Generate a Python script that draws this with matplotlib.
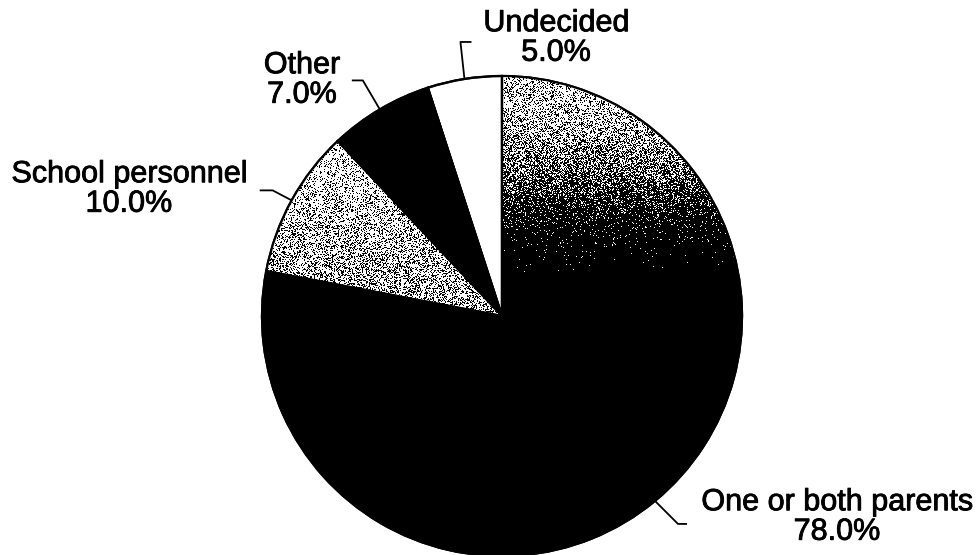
import numpy as np
import matplotlib
matplotlib.use("Agg")
import matplotlib.pyplot as plt
from matplotlib.patches import Wedge
import matplotlib.patheffects as pe

# Who the students turn to: share of responses
categories = ["One or both parents", "School personnel", "Other", "Undecided"]
shares = [78.0, 10.0, 7.0, 5.0]

W, H = 979, 555
fig = plt.figure(figsize=(W / 100, H / 100), dpi=100)
ax = fig.add_axes([0, 0, 1, 1])

cx, cy, R = 502, 239, 240
wedges, _ = ax.pie(shares, startangle=90, counterclock=False,
                   center=(cx, cy), radius=R, frame=True,
                   colors=["black", "#c4c4c4", "black", "white"],
                   wedgeprops=dict(edgecolor="black", linewidth=1.6))
ax.set_xlim(0, W)
ax.set_ylim(0, H)
ax.set_aspect("equal")
ax.axis("off")

rng = np.random.default_rng(3)
n = 2 * R
rows = np.arange(n)[:, None] * np.ones((1, n))


def smoothstep(x, lo, hi):
    u = np.clip((x - lo) / (hi - lo), 0, 1)
    return u * u * (3 - 2 * u)


def dither(level):
    """Binary speckle pattern whose local density of white follows `level`."""
    return (rng.random((n, n)) < level).astype(float)


# large wedge: light grey at the top, darkening smoothly into black
level = (0.66 * (1 - smoothstep(rows, 25, 165))
         + 0.05 * (1 - smoothstep(rows, 140, 205)))
im = ax.imshow(dither(level), cmap="gray", vmin=0, vmax=1,
               extent=(cx - R, cx + R, cy - R, cy + R),
               origin="upper", interpolation="nearest", zorder=1.5)
im.set_clip_path(wedges[0])

# second wedge: speckled light grey, a little darker towards the centre
level2 = 0.8 - 0.17 * smoothstep(rows, 70, 210)
im2 = ax.imshow(dither(level2), cmap="gray", vmin=0, vmax=1,
                extent=(cx - R, cx + R, cy - R, cy + R),
                origin="upper", interpolation="nearest", zorder=1.5)
im2.set_clip_path(wedges[1])

# outlines on top of the fills
for w in wedges:
    ax.add_patch(Wedge(w.center, w.r, w.theta1, w.theta2, facecolor="none",
                       edgecolor="black", linewidth=1.6, zorder=3))

font = dict(family="Liberation Sans", fontsize=22, color="black")
heavier = [pe.withStroke(linewidth=0.6, foreground="black")]

# leader-line elbow offsets and label centres for each wedge
layout = [
    ((23, -23), 9, (837, 38)),
    ((-19, 10), -13, (129, 366)),
    ((-17, 29), -11, (302, 475)),
    ((-4, 37), 11, (556, 517)),
]

start = 90.0
for i, (name, val) in enumerate(zip(categories, shares)):
    sweep = val / 100 * 360
    mid = np.deg2rad(start - sweep / 2)
    start -= sweep
    px, py = cx + R * np.cos(mid), cy + R * np.sin(mid)
    (dx, dy), ex, (lx, ly) = layout[i]
    ax.plot([px, px + dx, px + dx + ex], [py, py + dy, py + dy], color="black",
            linewidth=1.3, zorder=4, solid_capstyle="butt")
    ax.text(lx, ly, f"{name}\n{val:.1f}%", ha="center", va="center",
            linespacing=0.98, zorder=5, path_effects=heavier, **font)

fig.savefig("out.png", dpi=100)
